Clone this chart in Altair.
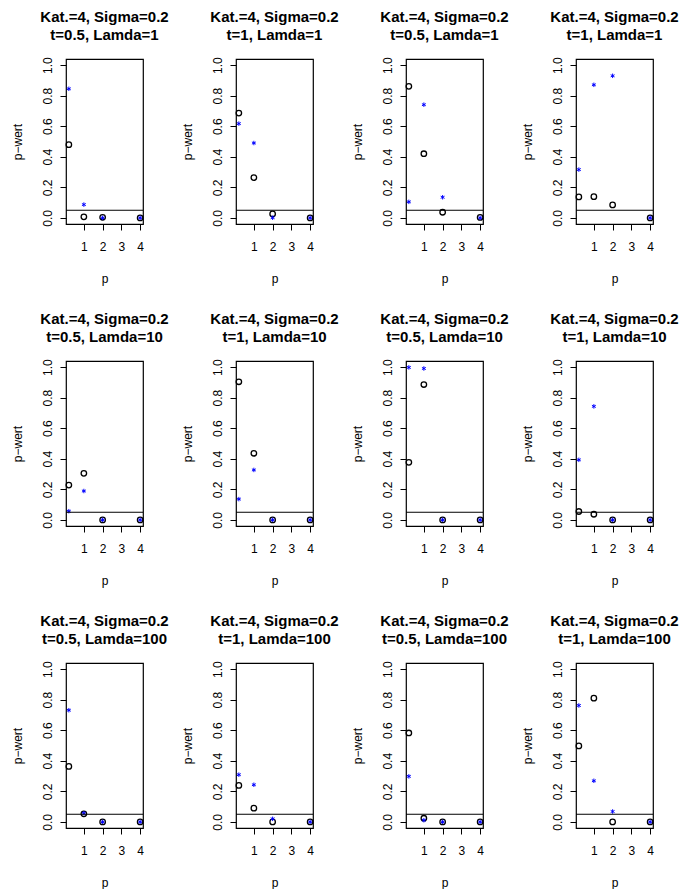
import altair as alt
import pandas as pd

# Stützstellen der Ordnung p und Beschriftungsteile der zwölf Panels
X_P = [0.2, 1, 2, 4]
T_LABELS = ["0.5", "1", "0.5", "1"]
LAMDA_LABELS = ["1", "10", "100"]
GRENZE = 0.05

# p-Werte (Kreise) je Panel, zeilenweise
KREIS = [
    [0.479, 0.007, 0.004, 0.000],
    [0.686, 0.264, 0.026, 0.000],
    [0.861, 0.420, 0.037, 0.003],
    [0.137, 0.139, 0.085, 0.000],
    [0.228, 0.305, 0.000, 0.000],
    [0.904, 0.436, 0.000, 0.000],
    [0.377, 0.886, 0.000, 0.000],
    [0.055, 0.037, 0.000, 0.000],
    [0.363, 0.053, 0.000, 0.000],
    [0.239, 0.090, 0.000, 0.000],
    [0.582, 0.024, 0.000, 0.000],
    [0.497, 0.810, 0.000, 0.000],
]

# p-Werte (Sterne) je Panel, zeilenweise
STERN = [
    [0.845, 0.087, 0.000, 0.000],
    [0.617, 0.490, 0.001, 0.000],
    [0.105, 0.741, 0.135, 0.000],
    [0.316, 0.871, 0.930, 0.000],
    [0.057, 0.189, 0.000, 0.000],
    [0.136, 0.327, 0.000, 0.000],
    [0.998, 0.991, 0.000, 0.000],
    [0.393, 0.743, 0.000, 0.000],
    [0.731, 0.057, 0.000, 0.000],
    [0.309, 0.243, 0.020, 0.000],
    [0.298, 0.011, 0.000, 0.000],
    [0.762, 0.269, 0.068, 0.000],
]

FONT = "Liberation Sans"
W, H = 77, 165
ASTERISK = "M0,-1L0,1M-0.87,-0.5L0.87,0.5M-0.87,0.5L0.87,-0.5"

x_scale = alt.Scale(domain=[0.048, 4.152], nice=False, zero=False)
y_scale = alt.Scale(domain=[-0.04, 1.04], nice=False, zero=False)

x_axis = alt.Axis(
    values=[1, 2, 3, 4], format="d", title="p",
    tickSize=6, labelPadding=20, labelBaseline="alphabetic",
    labelFontSize=12, labelFlush=False, labelOverlap=False,
    domain=False, grid=False,
    titleX=W / 2, titleY=58, titleAlign="center", titleBaseline="alphabetic",
    titleFontSize=12, titleFontWeight="normal",
)
y_axis = alt.Axis(
    values=[0, 0.2, 0.4, 0.6, 0.8, 1.0], format=".1f", title="p−wert",
    tickSize=6, labelPadding=9, labelAngle=270, labelAlign="center",
    labelBaseline="alphabetic", labelFontSize=12, labelFlush=False,
    labelOverlap=False, domain=False, grid=False,
    titleAngle=270, titleX=-45, titleY=H / 2, titleAlign="center",
    titleBaseline="alphabetic", titleFontSize=12, titleFontWeight="normal",
)


def panel(i):
    row, col = divmod(i, 4)
    df = pd.DataFrame({"p": X_P, "kreis": KREIS[i], "stern": STERN[i]})
    base = alt.Chart(df)
    kreise = base.mark_point(
        shape="circle", filled=False, color="black", size=30, strokeWidth=1.3, opacity=1
    ).encode(
        x=alt.X("p:Q", scale=x_scale, axis=x_axis),
        y=alt.Y("kreis:Q", scale=y_scale, axis=y_axis),
    )
    sterne = base.mark_point(
        shape=ASTERISK, filled=False, color="blue", size=20, strokeWidth=1, opacity=1
    ).encode(
        x=alt.X("p:Q", scale=x_scale, axis=x_axis),
        y=alt.Y("stern:Q", scale=y_scale, axis=y_axis),
    )
    linie = alt.Chart(pd.DataFrame({"grenze": [GRENZE]})).mark_rule(
        color="black", strokeWidth=1
    ).encode(y=alt.Y("grenze:Q", scale=y_scale, axis=y_axis))
    titel = alt.TitleParams(
        text=["Kat.=4, Sigma=0.2", f"t={T_LABELS[col]}, Lamda={LAMDA_LABELS[row]}"],
        fontSize=15, fontWeight="bold", font=FONT, color="black",
        anchor="middle", frame="group", baseline="alphabetic",
        lineHeight=18, offset=2,
    )
    return alt.layer(kreise, sterne, linie).properties(width=W, height=H, title=titel)


chart = alt.concat(
    *[panel(i) for i in range(12)],
    columns=4,
    spacing={"row": 137, "column": 93},
    bounds="flush",
).properties(
    padding={"left": 10, "top": 9, "right": 0, "bottom": 0},
    background="white",
).configure(
    font=FONT,
).configure_view(
    stroke="black", strokeWidth=1.2,
).configure_axis(
    labelColor="black", titleColor="black", tickColor="black", tickWidth=1,
    labelFont=FONT, titleFont=FONT, labelOverlap=False,
)

chart.save("out.html", embed_options={"renderer": "svg", "actions": False})
